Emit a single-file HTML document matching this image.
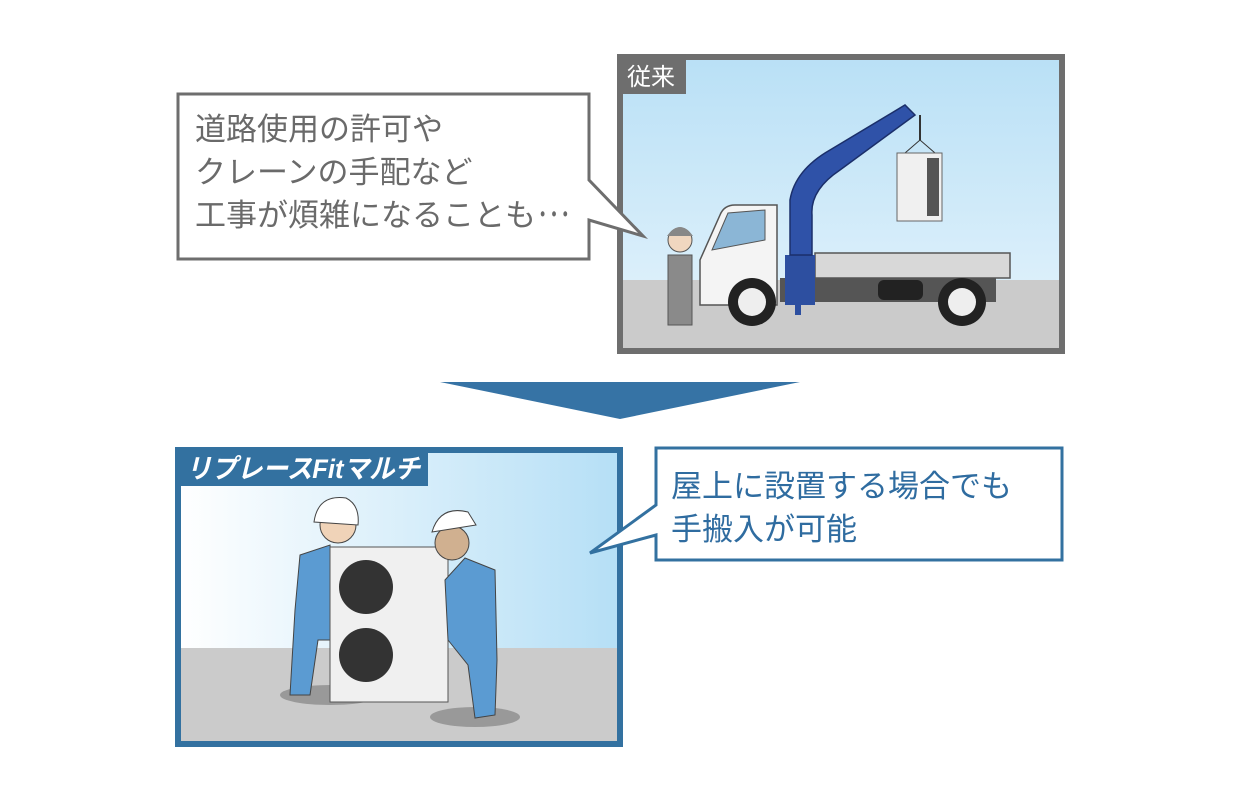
<!DOCTYPE html>
<html><head><meta charset="utf-8"><style>
body{margin:0;background:#fff;}
svg{display:block;}
text{font-family:"Liberation Sans","Noto Sans CJK JP",sans-serif;}
</style></head><body>
<svg width="1240" height="800" viewBox="0 0 1240 800" xmlns="http://www.w3.org/2000/svg">
<defs>
<linearGradient id="sky1" x1="0" y1="0" x2="0" y2="1"><stop offset="0" stop-color="#b9e0f6"/><stop offset="1" stop-color="#e6f4fc"/></linearGradient>
<linearGradient id="sky2" x1="0" y1="0" x2="1" y2="0"><stop offset="0" stop-color="#ffffff"/><stop offset="1" stop-color="#b5dff6"/></linearGradient>
</defs>
<!-- top frame -->
<rect x="620" y="57" width="442" height="294" fill="url(#sky1)" stroke="#6e6e6e" stroke-width="6"/>
<rect x="623" y="280" width="436" height="68" fill="#cbcbcb"/>
<rect x="617" y="54" width="69" height="40" fill="#6e6e6e"/>
<text x="651" y="85" font-size="24" fill="#fff" text-anchor="middle">従来</text>
<!-- truck -->
<rect x="815" y="253" width="195" height="25" fill="#d8d8d8" stroke="#555" stroke-width="1.5"/>
<rect x="780" y="278" width="216" height="24" fill="#555"/>
<rect x="878" y="280" width="45" height="20" rx="6" fill="#222"/>
<path d="M700 305 L700 260 L720 215 Q724 205 735 205 L777 205 L777 305 Z" fill="#f4f4f4" stroke="#555" stroke-width="1.5"/>
<path d="M712 250 L728 213 L765 210 L765 240 Z" fill="#8bb6d6" stroke="#555"/>
<rect x="785" y="255" width="30" height="50" fill="#2d4fa0"/>
<path d="M790 255 L790 200 Q795 170 830 150 L905 105 L915 115 L840 170 Q810 190 812 215 L812 255 Z" fill="#2f52a8" stroke="#1b2f6a" stroke-width="1.5"/>
<line x1="798" y1="270" x2="798" y2="315" stroke="#2d4fa0" stroke-width="6"/>
<line x1="920" y1="115" x2="920" y2="140" stroke="#333" stroke-width="2"/>
<path d="M905 153 L920 140 L935 153" fill="none" stroke="#333"/>
<rect x="897" y="153" width="45" height="68" fill="#f0f0f0" stroke="#666"/>
<rect x="927" y="158" width="12" height="58" fill="#555"/>
<circle cx="752" cy="302" r="24" fill="#222"/><circle cx="752" cy="302" r="14" fill="#eee"/>
<circle cx="962" cy="302" r="24" fill="#222"/><circle cx="962" cy="302" r="14" fill="#eee"/>
<!-- man -->
<circle cx="680" cy="240" r="12" fill="#f1d7c0" stroke="#555"/>
<path d="M667 236 Q680 218 693 236 Z" fill="#888"/>
<path d="M668 255 L692 255 L692 325 L668 325 Z" fill="#8a8a8a" stroke="#555"/>
<!-- top bubble -->
<path d="M178 94 L589 94 L589 180 L643 236 L589 220 L589 259 L178 259 Z" fill="#fff" stroke="#6e6e6e" stroke-width="3" stroke-linejoin="miter"/>
<text font-size="31" fill="#6a6a6a"><tspan x="195" y="140">道路使用の許可や</tspan><tspan x="195" y="183">クレーンの手配など</tspan><tspan x="195" y="226">工事が煩雑になることも</tspan></text>
<text x="537" y="226" font-size="31" fill="#6a6a6a" textLength="34" lengthAdjust="spacingAndGlyphs">･･･</text>
<!-- arrow -->
<polygon points="440,382 800,382 620,419" fill="#3673a5"/>
<!-- bottom frame -->
<rect x="178" y="450" width="442" height="294" fill="url(#sky2)" stroke="#3371a0" stroke-width="6"/>
<rect x="181" y="648" width="436" height="93" fill="#cbcbcb"/>
<rect x="175" y="447" width="253" height="39" fill="#3371a0"/>
<text x="186" y="478" font-size="27" font-weight="bold" font-style="italic" fill="#fff" textLength="234" lengthAdjust="spacingAndGlyphs">リプレースFitマルチ</text>
<!-- unit & workers -->
<ellipse cx="330" cy="695" rx="50" ry="10" fill="#999"/>
<ellipse cx="475" cy="717" rx="45" ry="10" fill="#999"/>
<path d="M300 555 L330 545 L335 640 L318 640 L310 695 L290 695 L295 610 Z" fill="#5b9bd2" stroke="#444"/>
<circle cx="338" cy="525" r="18" fill="#f0d3b8" stroke="#444"/>
<path d="M314 522 Q318 494 346 498 Q360 505 358 525 Z" fill="#fff" stroke="#444"/>
<rect x="330" y="547" width="118" height="155" fill="#f0f0f0" stroke="#555"/>
<circle cx="366" cy="587" r="27" fill="#333"/><circle cx="366" cy="655" r="27" fill="#333"/>
<path d="M445 580 L465 558 L495 570 L497 660 L495 715 L475 718 L468 665 L448 640 Z" fill="#5b9bd2" stroke="#444"/>
<circle cx="452" cy="543" r="17" fill="#d0b090" stroke="#444"/>
<path d="M432 532 Q440 505 468 512 L476 525 Z" fill="#fff" stroke="#444"/>
<!-- right bubble -->
<path d="M656 448 L1062 448 L1062 560 L656 560 L656 535 L590 553 L656 505 Z" fill="#fff" stroke="#3371a0" stroke-width="3"/>
<text font-size="31" fill="#2f6ca0"><tspan x="671" y="497">屋上に設置する場合でも</tspan><tspan x="671" y="540">手搬入が可能</tspan></text>
</svg>
</body></html>
